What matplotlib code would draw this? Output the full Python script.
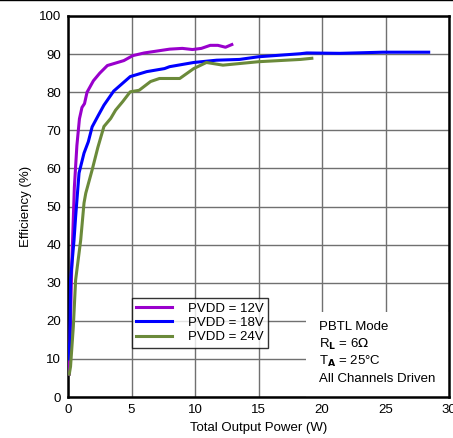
import matplotlib
matplotlib.use("Agg")
import matplotlib.pyplot as plt
from matplotlib.lines import Line2D

plt.rcParams['font.family'] = ['Liberation Sans', 'DejaVu Sans']

# efficiency curves
p12 = [0.1, 0.3, 0.5, 0.7, 0.9, 1.1, 1.3, 1.5, 2.0, 2.5, 3.1, 3.6, 4.4, 5.1,
       6.0, 7.0, 8.0, 9.0, 9.8, 10.5, 11.2, 11.8, 12.4, 12.9]
e12 = [6, 35, 55, 66, 73, 76, 77, 80, 83, 85, 87, 87.5, 88.3, 89.6,
       90.3, 90.8, 91.3, 91.5, 91.2, 91.5, 92.3, 92.3, 91.8, 92.5]

p18 = [0.05, 0.15, 0.2, 0.47, 0.6, 0.87, 1.26, 1.6, 1.9, 2.4, 2.83, 3.6, 4.9,
       6.2, 7.6, 8.0, 9.9, 11.7, 13.5, 15.0, 18.3, 18.8, 21.4, 24.8, 28.4]
e18 = [10, 15, 30.7, 41, 47.3, 58.8, 64, 67, 70.9, 74, 76.6, 80.3, 84.1,
       85.4, 86.2, 86.7, 87.8, 88.4, 88.6, 89.3, 90.1, 90.3, 90.2, 90.5, 90.5]

p24 = [0.1, 0.2, 0.42, 0.6, 1.0, 1.26, 1.4, 1.9, 2.35, 2.83, 3.36, 3.75, 4.3,
       4.9, 5.6, 6.5, 7.2, 8.8, 9.9, 10.9, 12.2, 15.0, 18.3, 19.2]
e24 = [6, 8, 18.5, 30.7, 41.2, 50.9, 53.5, 59.6, 65.5, 71, 73.1, 75.3, 77.5,
       80.1, 80.5, 82.8, 83.6, 83.6, 86.2, 87.8, 87.1, 88.0, 88.6, 88.9]

labels = ['PVDD = 12V', 'PVDD = 18V', 'PVDD = 24V']
colors = ['#9900CC', '#0000FF', '#6B8A3A']

fig = plt.figure(figsize=(4.53, 4.38), dpi=100)
ax = fig.add_axes([68 / 453, 41 / 438, 381 / 453, 381 / 438])

for p, e, lab, c in zip([p12, p18, p24], [e12, e18, e24], labels, colors):
    ax.plot(p, e, color=c, lw=2.2, label=lab, zorder=3)

ax.set_xlim(0, 30)
ax.set_ylim(0, 100)
ax.set_xticks(range(0, 31, 5))
ax.set_yticks(range(0, 101, 10))
ax.grid(True, color='#707070', lw=1.0)
ax.set_axisbelow(True)
ax.tick_params(length=0, labelsize=9.5, pad=5)
for s in ax.spines.values():
    s.set_linewidth(1.8)
ax.set_xlabel('Total Output Power (W)', fontsize=9.5, labelpad=4)
ax.set_ylabel('Efficiency (%)', fontsize=9.5, labelpad=5)

leg = ax.legend(loc='lower left', bbox_to_anchor=(0.167, 0.129, 0.358, 0.174),
                mode='expand', fontsize=9.5, frameon=True, fancybox=False,
                edgecolor='black', handlelength=2.7, borderpad=0.35,
                labelspacing=0.15, handletextpad=1.2, borderaxespad=0)
leg.get_frame().set_linewidth(1.0)

# white panel with the test conditions
ax.add_patch(plt.Rectangle((0.625, 0.0), 0.375, 0.223, transform=ax.transAxes,
                           facecolor='white', edgecolor='none', zorder=2))
cond = ['PBTL Mode', r'R$_\mathbf{L}$ = 6$\Omega$', r'T$_\mathbf{A}$ = 25°C',
        'All Channels Driven']
for i, t in enumerate(cond):
    ax.text(0.658, 0.183 - i * 0.045, t, transform=ax.transAxes, fontsize=9.5,
            va='center', ha='left', zorder=4)

fig.add_artist(Line2D([0, 1], [0.999, 0.999], transform=fig.transFigure,
                      color='black', lw=1))

fig.savefig('out.png', dpi=100)
